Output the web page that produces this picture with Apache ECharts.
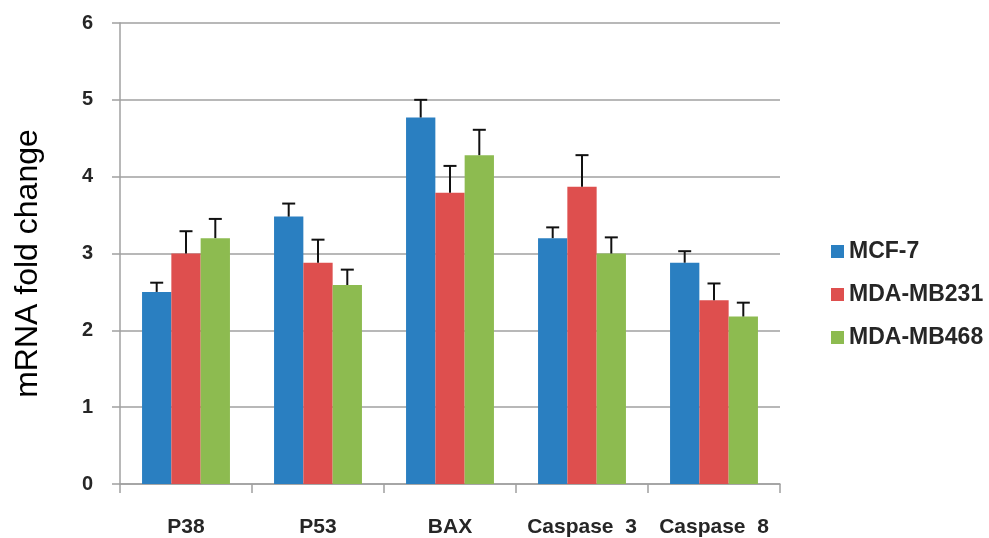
<!DOCTYPE html>
<html>
<head>
<meta charset="utf-8">
<script src="https://cdn.jsdelivr.net/npm/echarts@6/dist/echarts.min.js"></script>
<style>
html,body{margin:0;padding:0;background:#fff;}
#chart{width:989px;height:538px;}
</style>
</head>
<body>
<div id="chart"></div>
<script>
const categories = ['P38', 'P53', 'BAX', 'Caspase  3', 'Caspase  8'];
const seriesNames = ['MCF-7', 'MDA-MB231', 'MDA-MB468'];
const mcf7 = [2.50, 3.48, 4.77, 3.20, 2.88];
const mdaMB231 = [3.00, 2.88, 3.79, 3.87, 2.39];
const mdaMB468 = [3.20, 2.59, 4.28, 3.00, 2.18];
const mcf7Err = [0.12, 0.17, 0.23, 0.14, 0.15];
const mdaMB231Err = [0.29, 0.30, 0.35, 0.41, 0.22];
const mdaMB468Err = [0.25, 0.20, 0.33, 0.21, 0.18];
const yTicks = [0, 1, 2, 3, 4, 5, 6];

const colors = ['#2a7fc1', '#de4f4e', '#8dbb50'];
const values = [mcf7, mdaMB231, mdaMB468];
const errs = [mcf7Err, mdaMB231Err, mdaMB468Err];
const BAR_FRAC = 0.222;
const FONT = "'Liberation Sans', Arial, sans-serif";
const TXT = '#262626';

const chart = echarts.init(document.getElementById('chart'));

const barSeries = seriesNames.map((name, i) => ({
  name: name,
  type: 'bar',
  data: values[i],
  barWidth: (BAR_FRAC * 100) + '%',
  barGap: '0%',
  itemStyle: { color: colors[i] },
  z: 2
}));

const errSeries = seriesNames.map((name, i) => ({
  type: 'custom',
  name: name + ' err',
  z: 5,
  silent: true,
  encode: { x: 0, y: 1 },
  data: values[i].map((v, ci) => [ci, v, errs[i][ci]]),
  renderItem: function (params, api) {
    const ci = api.value(0), v = api.value(1), e = api.value(2);
    const band = api.size([1, 0])[0];
    const bw = band * BAR_FRAC;
    const base = api.coord([ci, v]);
    const x = base[0] + (i - 1) * bw;
    const top = api.coord([ci, v + e])[1];
    const half = 6.5;
    return {
      type: 'group',
      children: [
        { type: 'line', shape: { x1: x, y1: base[1], x2: x, y2: top }, style: { stroke: '#111', lineWidth: 2 } },
        { type: 'line', shape: { x1: x - half, y1: top, x2: x + half, y2: top }, style: { stroke: '#111', lineWidth: 2 } }
      ]
    };
  }
}));

chart.setOption({
  animation: false,
  backgroundColor: '#fff',
  grid: { left: 120, right: 209, top: 23, bottom: 53 },
  legend: {
    data: seriesNames,
    orient: 'vertical',
    left: 826,
    top: 235,
    itemWidth: 13,
    itemHeight: 13,
    itemGap: 20,
    icon: 'rect',
    textStyle: { fontFamily: FONT, fontSize: 23, fontWeight: 'bold', color: TXT, padding: [0, 0, 0, 0] }
  },
  xAxis: {
    type: 'category',
    data: categories,
    axisLine: { show: true, lineStyle: { color: '#a0a0a0', width: 1.5 } },
    axisTick: { show: true, interval: 0, length: 9, lineStyle: { color: '#a0a0a0', width: 1.5 } },
    axisLabel: { interval: 0, hideOverlap: false, fontFamily: FONT, fontSize: 21, fontWeight: 'bold', color: TXT, margin: 33 }
  },
  yAxis: {
    type: 'value',
    min: yTicks[0],
    max: yTicks[yTicks.length - 1],
    interval: 1,
    name: 'mRNA fold change',
    nameLocation: 'middle',
    nameGap: 76,
    nameTextStyle: { fontFamily: FONT, fontSize: 32, color: '#000', padding: [0, 20, 0, 0] },
    axisLine: { show: true, lineStyle: { color: '#a0a0a0', width: 1.5 } },
    axisTick: { show: true, length: 8, lineStyle: { color: '#a0a0a0', width: 1.5 } },
    axisLabel: { fontFamily: FONT, fontSize: 20, fontWeight: 'bold', color: TXT, margin: 27 },
    splitLine: { show: true, lineStyle: { color: '#a0a0a0', width: 1.5 } }
  },
  series: barSeries.concat(errSeries)
});
</script>
</body>
</html>
